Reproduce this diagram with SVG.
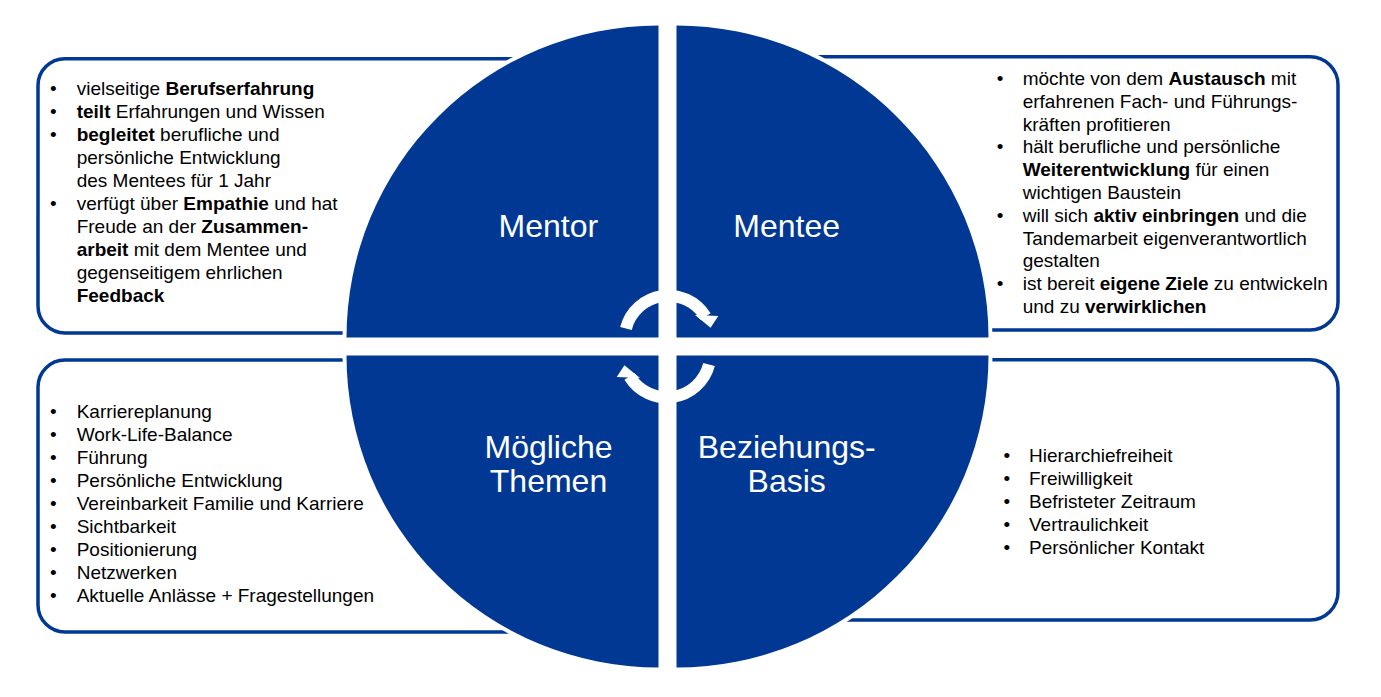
<svg xmlns="http://www.w3.org/2000/svg" xmlns:xlink="http://www.w3.org/1999/xlink" width="1381" height="697" viewBox="0 0 1381 697">
<style>
.box{fill:#fff;stroke:#003893;stroke-width:3.5}
.q{fill:#003893;stroke:#fff;stroke-width:8;paint-order:stroke}
.t{font-family:"Liberation Sans",Arial,sans-serif;font-size:19px;fill:#000}
.b{font-weight:bold}
.h{font-family:"Liberation Sans",Arial,sans-serif;font-size:32px;fill:#fff;text-anchor:middle}
.arc{fill:none;stroke:#fff;stroke-width:12}
</style>
<defs>
<g id="cyc">
<path class="arc" d="M625.95,328.4 A43.7,43.7 0 0 1 705.5,316.5"/>
<polygon points="695,315 718.3,316 710.6,327.8" fill="#fff"/>
</g>
</defs>
<rect width="1381" height="697" fill="#fff"/>

<g id="box-mentor">
<rect class="box" x="38" y="58.7" width="560" height="274.3" rx="27"/>
<text class="t">
<tspan x="50" y="95">•</tspan><tspan x="76.7" y="95">vielseitige <tspan class="b">Berufserfahrung</tspan></tspan>
<tspan x="50" y="118">•</tspan><tspan x="76.7" y="118"><tspan class="b">teilt</tspan> Erfahrungen und Wissen</tspan>
<tspan x="50" y="141">•</tspan><tspan x="76.7" y="141"><tspan class="b">begleitet</tspan> berufliche und</tspan>
<tspan x="76.7" y="164">persönliche Entwicklung</tspan>
<tspan x="76.7" y="187">des Mentees für 1 Jahr</tspan>
<tspan x="50" y="210">•</tspan><tspan x="76.7" y="210">verfügt über <tspan class="b">Empathie</tspan> und hat</tspan>
<tspan x="76.7" y="233">Freude an der <tspan class="b">Zusammen-</tspan></tspan>
<tspan x="76.7" y="256"><tspan class="b">arbeit</tspan> mit dem Mentee und</tspan>
<tspan x="76.7" y="279">gegenseitigem ehrlichen</tspan>
<tspan x="76.7" y="302" class="b">Feedback</tspan>
</text>
</g>

<g id="box-mentee">
<rect class="box" x="700" y="56.7" width="638" height="273.3" rx="28"/>
<text class="t">
<tspan x="996.7" y="85">•</tspan><tspan x="1022.7" y="85">möchte von dem <tspan class="b">Austausch</tspan> mit</tspan>
<tspan x="1022.7" y="107.8">erfahrenen Fach- und Führungs-</tspan>
<tspan x="1022.7" y="130.6">kräften profitieren</tspan>
<tspan x="996.7" y="153.4">•</tspan><tspan x="1022.7" y="153.4">hält berufliche und persönliche</tspan>
<tspan x="1022.7" y="176.2" class="b">Weiterentwicklung</tspan><tspan> für einen</tspan>
<tspan x="1022.7" y="199">wichtigen Baustein</tspan>
<tspan x="996.7" y="221.8">•</tspan><tspan x="1022.7" y="221.8">will sich <tspan class="b">aktiv einbringen</tspan> und die</tspan>
<tspan x="1022.7" y="244.6">Tandemarbeit eigenverantwortlich</tspan>
<tspan x="1022.7" y="267.4">gestalten</tspan>
<tspan x="996.7" y="290.2">•</tspan><tspan x="1022.7" y="290.2">ist bereit <tspan class="b">eigene Ziele</tspan> zu entwickeln</tspan>
<tspan x="1022.7" y="313">und zu <tspan class="b">verwirklichen</tspan></tspan>
</text>
</g>

<g id="box-themen">
<rect class="box" x="38" y="360" width="560" height="272" rx="27"/>
<text class="t">
<tspan x="50" y="417.5">•</tspan><tspan x="76.7" y="417.5">Karriereplanung</tspan>
<tspan x="50" y="440.5">•</tspan><tspan x="76.7" y="440.5">Work-Life-Balance</tspan>
<tspan x="50" y="463.5">•</tspan><tspan x="76.7" y="463.5">Führung</tspan>
<tspan x="50" y="486.5">•</tspan><tspan x="76.7" y="486.5">Persönliche Entwicklung</tspan>
<tspan x="50" y="509.5">•</tspan><tspan x="76.7" y="509.5">Vereinbarkeit Familie und Karriere</tspan>
<tspan x="50" y="532.5">•</tspan><tspan x="76.7" y="532.5">Sichtbarkeit</tspan>
<tspan x="50" y="555.5">•</tspan><tspan x="76.7" y="555.5">Positionierung</tspan>
<tspan x="50" y="578.5">•</tspan><tspan x="76.7" y="578.5">Netzwerken</tspan>
<tspan x="50" y="601.5">•</tspan><tspan x="76.7" y="601.5">Aktuelle Anlässe + Fragestellungen</tspan>
</text>
</g>

<g id="box-basis">
<rect class="box" x="700" y="359.7" width="638" height="260.3" rx="28"/>
<text class="t">
<tspan x="1003.4" y="462.3">•</tspan><tspan x="1029" y="462.3">Hierarchiefreiheit</tspan>
<tspan x="1003.4" y="485.2">•</tspan><tspan x="1029" y="485.2">Freiwilligkeit</tspan>
<tspan x="1003.4" y="508.1">•</tspan><tspan x="1029" y="508.1">Befristeter Zeitraum</tspan>
<tspan x="1003.4" y="531">•</tspan><tspan x="1029" y="531">Vertraulichkeit</tspan>
<tspan x="1003.4" y="553.9">•</tspan><tspan x="1029" y="553.9">Persönlicher Kontakt</tspan>
</text>
</g>

<g id="q-mentor">
<path class="q" d="M658.5,337.5 L346.5,337.5 A312,312 0 0 1 658.5,25.5 Z"/>
<text class="h" x="548.3" y="237">Mentor</text>
</g>
<g id="q-mentee">
<path class="q" d="M676.5,337.5 L676.5,25.5 A312,312 0 0 1 988.5,337.5 Z"/>
<text class="h" x="786.7" y="237">Mentee</text>
</g>
<g id="q-basis">
<path class="q" d="M676.5,355.5 L988.5,355.5 A312,312 0 0 1 676.5,667.5 Z"/>
<text class="h" x="786.7" y="458.3">Beziehungs-</text>
<text class="h" x="786.7" y="491.7">Basis</text>
</g>
<g id="q-themen">
<path class="q" d="M658.5,355.5 L658.5,667.5 A312,312 0 0 1 346.5,355.5 Z"/>
<text class="h" x="548.5" y="458.3">Mögliche</text>
<text class="h" x="548.5" y="491.7">Themen</text>
</g>

<g id="connectors">
<use xlink:href="#cyc"/>
<use xlink:href="#cyc" transform="rotate(180 667.5 346.5)"/>
</g>
</svg>
